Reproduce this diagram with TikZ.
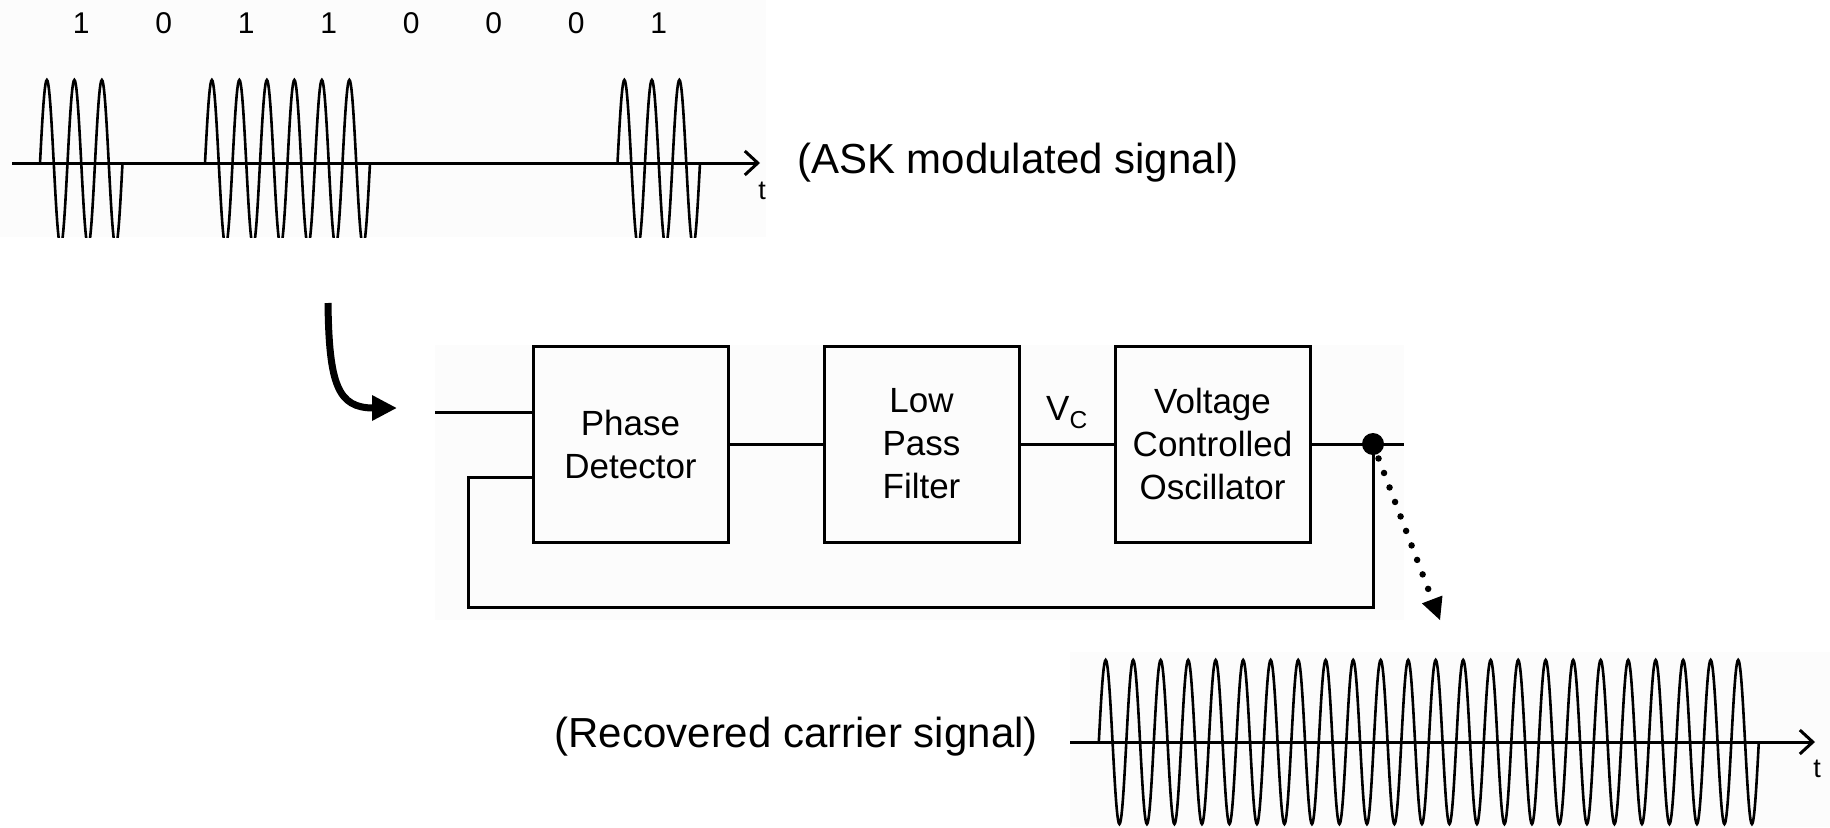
\documentclass[tikz,border=0pt]{standalone}
\usepackage{fontspec}
\setmainfont{Liberation Sans}
\usepackage{tikz}
\usetikzlibrary{positioning,arrows.meta}

\begin{document}
\begin{tikzpicture}[x=1pt, y=-1pt,
    blk/.style={draw, line width=3pt, minimum width=195pt, minimum height=196pt, align=center, font=\fontsize{35}{43}\selectfont},
    conn/.style={line width=3pt},
    bit/.style={font=\fontsize{30}{36}\selectfont},
    caplbl/.style={font=\fontsize{42}{50}\selectfont, inner sep=0pt},
    tlbl/.style={font=\fontsize{27}{32}\selectfont, inner sep=0pt},
    wave/.style={line width=2.6pt},
    axis/.style={line width=3pt, -{Straight Barb[length=13pt,width=24pt]}},
    bg/.style={fill=black!1, draw=none},
]
\useasboundingbox (0,0) rectangle (1830,827);

\fill[bg] (0,0) rectangle (766,237);
\fill[bg] (435,345) rectangle (1404,620);
\fill[bg] (1070,652) rectangle (1830,827);

\foreach \b [count=\i from 0] in {1,0,1,1,0,0,0,1}
  \node[bit] (bit\i) at ({81.25+82.5*\i},23) {\b};
\begin{scope}
\clip (0,0) rectangle (1830,237);
\foreach \k/\n/\ns in {0/1/121, 2/2/241, 7/1/121}
  \draw[wave] plot[domain=0:82.5*\n, samples=\ns] ({40+82.5*\k+\x}, {163-83*sin(\x/27.5*360)});
\end{scope}
\coordinate (ax0) at (12,163);
\coordinate (ax1) at (760,163);
\draw[axis] (ax0) -- (ax1);
\node[tlbl] (t1) at (762,191) {t};
\node[caplbl, anchor=base west] (asklbl) at (797,173) {(ASK modulated signal)};

\coordinate (askout) at (328,303);
\coordinate (pllin) at (397,408);
\draw[line width=7pt, -{Triangle[length=25pt,width=24pt]}] (askout) .. controls (329,385) and (338,408) .. (pllin);

\node[blk] (pd) at (630.5,444) {Phase\\Detector};
\node[blk, right=93pt of pd] (lpf) {Low\\Pass\\Filter};
\node[blk, right=93pt of lpf] (vco) {Voltage\\Controlled\\Oscillator};
\node[font=\fontsize{35}{43}\selectfont, anchor=base] (vc) at (1067,420) {V\textsubscript{C}};

\coordinate (in) at (435,412);
\coordinate (out) at (1404,444);
\coordinate (fb) at (468,607);
\coordinate (fbin) at (468,477);
\draw[conn] (in) -- (in -| pd.west);
\draw[conn] (pd) -- (lpf);
\draw[conn] (lpf) -- (vco);
\draw[conn] (vco) -- (out);
\draw[conn] (1373,444) |- (fb) -- (fbin) -- (fbin -| pd.west);
\node[circle, fill, inner sep=0pt, minimum size=22pt] (dot) at (1373,444) {};

\coordinate (car) at (1440,620);
\draw[line width=6.5pt, line cap=round, dash pattern=on 0pt off 15.5pt, -{Triangle[length=22pt,width=22pt,line width=0pt]}] (dot.center) -- (car);

\draw[wave] plot[domain=0:660, samples=961] ({1098.8+\x}, {742-82*sin(\x/27.5*360)});
\coordinate (bx0) at (1070,742);
\coordinate (bx1) at (1815,742);
\draw[axis] (bx0) -- (bx1);
\node[tlbl] (t2) at (1817,769) {t};
\node[caplbl, anchor=base east] (carlbl) at (1038,747) {(Recovered carrier signal)};
\end{tikzpicture}
\end{document}
